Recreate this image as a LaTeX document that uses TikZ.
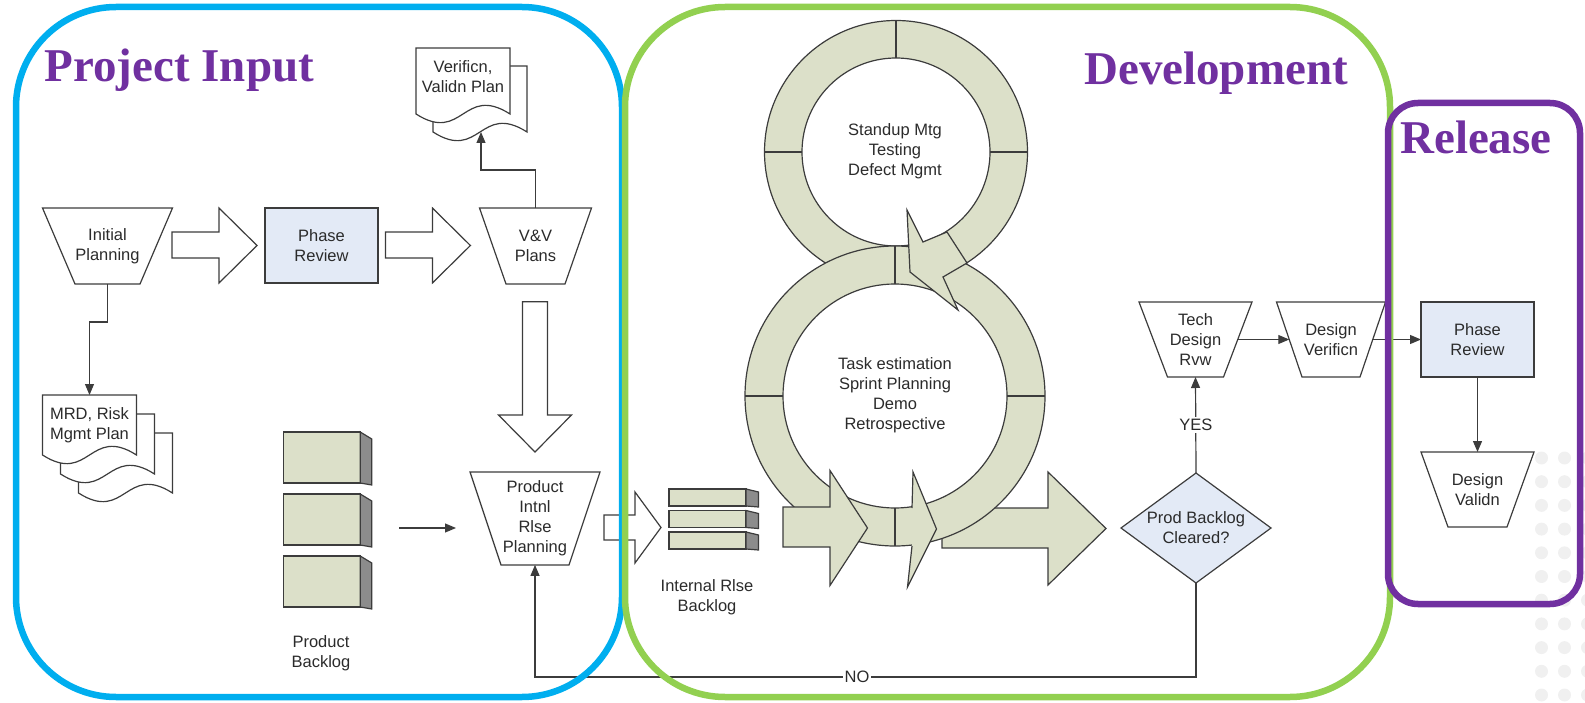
\documentclass[tikz,border=0pt]{standalone}
\usepackage{fontspec}
\setmainfont{Liberation Serif}
\setsansfont{Liberation Sans}
\usetikzlibrary{arrows.meta,calc}

\definecolor{ringfill}{HTML}{DCE0C9}
\definecolor{phasefill}{HTML}{E3EAF6}
\definecolor{linecol}{HTML}{3C3C3C}
\definecolor{sidegray}{HTML}{8C8C8C}
\definecolor{pinblue}{HTML}{00AEEF}
\definecolor{devgreen}{HTML}{92D050}
\definecolor{relpurple}{HTML}{7030A0}
\definecolor{txtgray}{HTML}{2B2B2B}
\definecolor{dotgray}{HTML}{F0F0F0}

\tikzset{
  shapeline/.style={draw=linecol, line width=1.2pt, line join=miter},
  lbl/.style={font=\fontsize{16.5}{20}\selectfont\sffamily, text=txtgray, align=center, inner sep=0pt, outer sep=0pt},
  conn/.style={draw=linecol, line width=1.2pt, -{Triangle[length=11pt,width=9pt]}},
  plainline/.style={draw=linecol, line width=1.2pt},
  hollow/.style={shapeline, fill=white},
  solidarrow/.style={shapeline, fill=ringfill},
  rectbox/.style={shapeline, fill=phasefill},
  boxthreed/.style={shapeline, fill=ringfill, inner sep=0pt, outer sep=0pt},
  sideface/.style={shapeline, fill=sidegray},
  ttl/.style={font=\fontsize{47}{50}\selectfont\bfseries, text=relpurple, inner sep=0pt, anchor=base west},
  frameline/.style={line width=6.5pt},
}

% trapezoid: name, cx, cy, top width, bottom width, height, text
\newcommand{\trapnode}[7]{%
  \path[shapeline, fill=white] ({#2-#4/2},{#3-#6/2}) -- ({#2+#4/2},{#3-#6/2}) -- ({#2+#5/2},{#3+#6/2}) -- ({#2-#5/2},{#3+#6/2}) -- cycle;
  \node[lbl, minimum width={(#4+#5)/2}, minimum height=#6] (#1) at (#2,#3) {#7};
}
% document page: x0, y0, w, h
\newcommand{\docpage}[4]{%
  \path[shapeline, fill=white] (#1,#2) -- ({#1+#3},#2) -- ({#1+#3},{#2+#4}) .. controls ({#1+#3/2},{#2+#4-30}) and ({#1+#3/2},{#2+#4+30}) .. (#1,{#2+#4}) -- cycle;
}

\begin{document}
\begin{tikzpicture}[x=1pt,y=-1pt]
\useasboundingbox (0,0) rectangle (1585,703);

% background dots
\foreach \yy in {0,...,10} {
  \fill[dotgray] (1541.5,{458+23.7*\yy}) circle[radius=6.5];
  \fill[dotgray] (1564.5,{458+23.7*\yy}) circle[radius=6.5];
  \fill[dotgray] (1587.5,{458+23.7*\yy}) circle[radius=6.5];
}

% ---------- Project input ----------
\trapnode{init}{107.5}{246}{130}{65}{76}{Initial\\Planning}
\node[rectbox, lbl, minimum width=113, minimum height=75] (pr1) at (321.5,245.5) {Phase\\Review};
\trapnode{vv}{535.5}{246}{112}{59}{76}{V\&V\\Plans}
\trapnode{pirp}{535}{518.4}{130}{68}{93}{Product\\Intnl\\Rlse\\Planning}

% hollow block arrows
\path[hollow] (172,232) -- (219,232) -- (219,208) -- (257,245.5) -- (219,283) -- (219,258) -- (172,258) -- cycle;
\path[hollow] (385.4,232) -- (432.4,232) -- (432.4,208) -- (470.4,245.5) -- (432.4,283) -- (432.4,258) -- (385.4,258) -- cycle;
\path[hollow] (522.5,301.7) -- (547.5,301.7) -- (547.5,415) -- (571.5,415) -- (535,452) -- (498.5,415) -- (522.5,415) -- cycle;
\path[hollow] (604,515) -- (635,515) -- (635,492) -- (661,527.5) -- (635,563) -- (635,540) -- (604,540) -- cycle;

% documents
\docpage{78.5}{433}{94}{60}
\docpage{60.5}{414}{94}{60}
\docpage{42.5}{395}{94}{60}
\node[lbl, minimum width=94, minimum height=60, anchor=north] (mrd) at (89.5,395) {MRD, Risk\\Mgmt Plan};
\docpage{433}{66}{94}{66}
\docpage{416}{48}{94}{66}
\node[lbl, minimum width=94, minimum height=57, anchor=north] (vdoc) at (463,48) {Verificn,\\Validn Plan};
\coordinate (vdocin) at (481,132);

\draw[conn] (init.south) -- ++(0,38) -| (mrd.north);
\draw[conn] (vv.north) -- ++(0,-38) -| (vdocin);

% product backlog boxes
\foreach \nm/\yc in {pb1/457.5, pb2/519.5, pb3/581.5} {
  \node[boxthreed, minimum width=76.5, minimum height=51] (\nm) at (322,\yc) {};
  \path[sideface] (\nm.north east) -- ++(11.5,7) -- ($(\nm.south east)+(11.5,2)$) -- (\nm.south east) -- cycle;
}
\node[lbl] (pblbl) at (321,653) {Product\\Backlog};
\coordinate (pbout) at (399,528);
\coordinate (pirpin) at (456,528);
\draw[conn] (pbout) -- (pirpin);

% internal release backlog
\foreach \nm/\yc in {ib1/497.5, ib2/519, ib3/540.5} {
  \node[boxthreed, minimum width=77, minimum height=17] (\nm) at (707.5,\yc) {};
  \path[sideface] (\nm.north east) -- ++(12.5,3) -- ($(\nm.south east)+(12.5,1)$) -- (\nm.south east) -- cycle;
}
\node[lbl] (iblbl) at (707,597) {Internal Rlse\\Backlog};

% ---------- Development: figure eight ----------
\path[solidarrow] (942,508) -- (1048,508) -- (1048,472) -- (1106,528.5) -- (1048,585) -- (1048,548) -- (942,548) -- cycle;

\path[shapeline, fill=ringfill, even odd rule] (896,152) circle[radius=131.5] (896,152) circle[radius=94];
\draw[plainline] (896,20.5) -- (896,58);
\draw[plainline] (764.5,152) -- (802,152);
\draw[plainline] (990,152) -- (1027.5,152);

\path[shapeline, fill=ringfill, even odd rule] (895,396) circle[radius=150] (895,396) circle[radius=112];
\draw[plainline] (895,246) -- (895,284);
\draw[plainline] (745,396) -- (783,396);
\draw[plainline] (1007,396) -- (1045,396);
\draw[plainline] (895,508) -- (895,546);

\path[solidarrow] (947,232) -- (923,242) -- (907,210) -- (910,272) -- (958,310) -- (943,277) -- (967,263) -- cycle;

\path[solidarrow] (783,507) -- (830,507) -- (830,470.5) -- (867.5,528) -- (830,585.5) -- (830,547) -- (783,547) -- cycle;
\fill[ringfill] (912,508) -- (913,472) -- (936.5,529) -- (907.5,587) -- (912,546) -- cycle;
\draw[plainline, line join=miter] (912,508) -- (913,472) -- (936.5,529) -- (907.5,587) -- (912,546);

\node[lbl] (upperlbl) at (895,151) {Standup Mtg\\Testing\\Defect Mgmt};
\node[lbl] (lowerlbl) at (895,395) {Task estimation\\Sprint Planning\\Demo\\Retrospective};

% decision and design reviews
\path[shapeline, fill=phasefill] (1121,528) -- (1196,473) -- (1271,528) -- (1196,583) -- cycle;
\node[lbl, minimum width=150, minimum height=110] (dia) at (1196,528) {Prod Backlog\\Cleared?};
\trapnode{tech}{1195.5}{339.5}{113}{56}{75}{Tech\\Design\\Rvw}
\trapnode{dv}{1331}{339.5}{109}{58}{75}{Design\\Verificn}

% ---------- Release ----------
\node[rectbox, lbl, minimum width=113, minimum height=75] (pr2) at (1477.5,339.5) {Phase\\Review};
\trapnode{dval}{1477.5}{489.5}{113}{59}{75}{Design\\Validn}

\draw[conn] (dia.north) -- (tech.south) node[lbl, midway, fill=white, inner sep=2pt] (yeslbl) {YES};
\draw[conn] (tech.east) -- (dv.west);
\draw[conn] (dv.east) -- (pr2.west);
\draw[conn] (pr2.south) -- (dval.north);
\coordinate (nocorner) at (535,677);
\draw[conn] (dia.south) |- (nocorner) -- (pirp.south);
\node[lbl, fill=white, inner sep=1.5pt] (nolbl) at (857,677) {NO};

% ---------- frames ----------
\draw[pinblue, frameline, rounded corners=100pt] (16,7) rectangle (622,697);
\draw[devgreen, frameline, rounded corners=100pt] (625,7) rectangle (1390,697);
\draw[relpurple, frameline, rounded corners=30pt] (1388,103) rectangle (1580,604);

\node[ttl] (tinput) at (44.5,81.7) {Project Input};
\node[ttl] (tdev) at (1084,85) {Development};
\node[ttl] (trel) at (1400,154) {Release};
\end{tikzpicture}
\end{document}
